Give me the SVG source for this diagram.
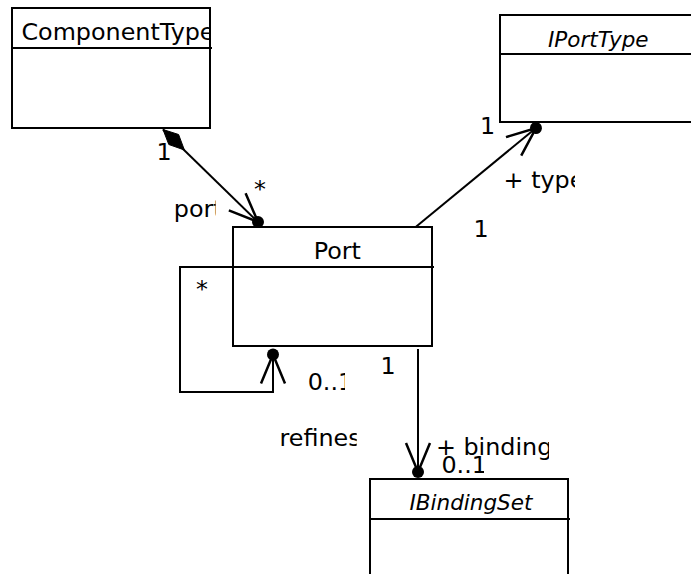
<svg xmlns="http://www.w3.org/2000/svg" width="691" height="574" viewBox="0 0 691 574">
<style>
  .box { fill: #fff; stroke: #000; stroke-width: 2; }
  .div { stroke: #000; stroke-width: 2; }
  .t { font-family: "DejaVu Sans", sans-serif; font-size: 22.5px; fill: #000; }
  .it { font-style: italic; font-size: 21.5px; }
  .edge { fill: none; stroke: #000; stroke-width: 2; }
</style>
<defs>
  <marker id="nav" markerUnits="userSpaceOnUse" orient="auto" refX="0" refY="0" markerWidth="80" markerHeight="80" viewBox="-40 -40 80 80" overflow="visible">
    <path d="M-29,-12 L0,0 L-29,12" fill="none" stroke="#000" stroke-width="2.5"/>
    <circle cx="0" cy="0" r="6" fill="#000"/>
  </marker>
  <clipPath id="cCT"><rect x="12" y="8" width="198" height="120"/></clipPath>
  <clipPath id="cPort"><rect x="150" y="195" width="65.7" height="30"/></clipPath>
  <clipPath id="cType"><rect x="500" y="165" width="75" height="30"/></clipPath>
  <clipPath id="cLoop01"><rect x="300" y="365" width="45" height="30"/></clipPath>
  <clipPath id="cRef"><rect x="270" y="420" width="86.7" height="32"/></clipPath>
  <clipPath id="cBind"><rect x="430" y="430" width="119" height="30"/></clipPath>
  <clipPath id="cB01"><rect x="435" y="455" width="49" height="23"/></clipPath>
</defs>

<g id="connectors">
  <path class="edge" d="M163,129.5 L258,222" marker-end="url(#nav)"/>
  <polygon points="163,129.5 178.6,134.5 184.4,150 168.8,144.5" fill="#000" stroke="#000" stroke-width="1"/>
  <path class="edge" d="M416,226.7 L536,128" marker-end="url(#nav)"/>
  <path class="edge" d="M233,267 H180 V392 H273 V354.5" marker-end="url(#nav)"/>
  <path class="edge" d="M418,349 V472" marker-end="url(#nav)"/>
  <text class="t" transform="translate(156.4,160) scale(1.06,1)">1</text>
  <text class="t" transform="translate(254,197) scale(1.06,1)">*</text>
  <g clip-path="url(#cPort)"><text class="t" transform="translate(173.8,216.7) scale(1.06,1)">port</text></g>
  <text class="t" transform="translate(480.1,134.3) scale(1.06,1)">1</text>
  <g clip-path="url(#cType)"><text class="t" transform="translate(503.6,188) scale(1.06,1)">+ type</text></g>
  <text class="t" transform="translate(473.4,236.7) scale(1.06,1)">1</text>
  <text class="t" transform="translate(196,297) scale(1.06,1)">*</text>
  <g clip-path="url(#cLoop01)"><text class="t" transform="translate(307.7,390) scale(1.06,1)">0..1</text></g>
  <text class="t" transform="translate(380.4,374) scale(1.06,1)">1</text>
  <g clip-path="url(#cRef)"><text class="t" transform="translate(279.5,446) scale(1.06,1)">refines</text></g>
  <g clip-path="url(#cBind)"><text class="t" transform="translate(435.9,455) scale(1.06,1)">+ bindings</text></g>
  <g clip-path="url(#cB01)"><text class="t" transform="translate(441.4,473.3) scale(1.06,1)">0..1</text></g>
</g>

<g id="ComponentType">
  <rect class="box" x="12" y="8" width="198" height="120"/>
  <line class="div" x1="12" y1="48" x2="212" y2="48"/>
  <g clip-path="url(#cCT)"><text class="t" transform="translate(21.4,40) scale(1.06,1)">ComponentType</text></g>
</g>

<g id="IPortType">
  <rect class="box" x="500" y="15" width="198" height="107"/>
  <line class="div" x1="500" y1="54" x2="700" y2="54"/>
  <text class="t it" x="548" y="47">IPortType</text>
</g>

<g id="Port">
  <rect class="box" x="233" y="227" width="199" height="119"/>
  <line class="div" x1="233" y1="267" x2="434" y2="267"/>
  <text class="t" transform="translate(313.7,259) scale(1.06,1)">Port</text>
</g>

<g id="IBindingSet">
  <rect class="box" x="370" y="479" width="198" height="120"/>
  <line class="div" x1="370" y1="519" x2="570" y2="519"/>
  <text class="t it" x="409.5" y="510">IBindingSet</text>
</g>
</svg>
